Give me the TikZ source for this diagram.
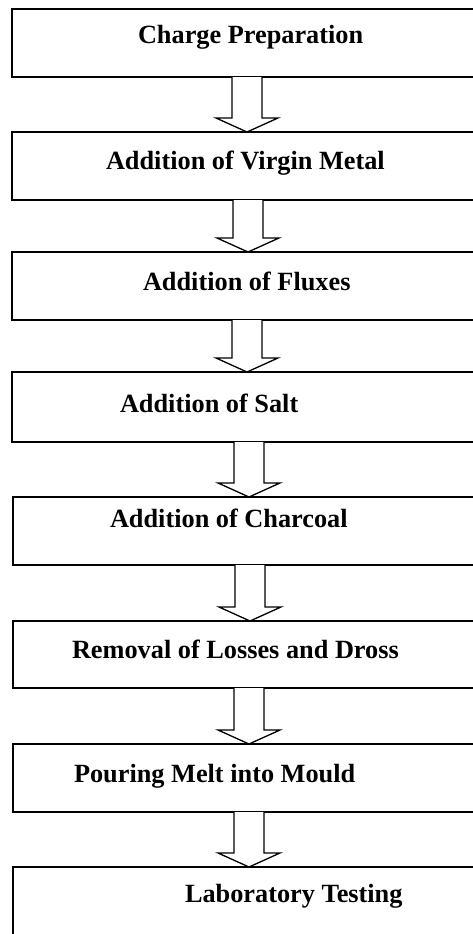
\documentclass[tikz,border=0pt]{standalone}
\usepackage{fontspec}
\setmainfont{Liberation Serif}
\usetikzlibrary{calc}
\tikzset{
  stepbox/.style={draw=black, line width=2pt, rectangle, outer sep=0pt, inner sep=0pt, minimum width=480pt, anchor=north west},
  steptext/.style={anchor=base west, inner sep=0pt, outer sep=0pt, font=\fontsize{26.3}{30}\selectfont\bfseries},
  arrowshape/.style={draw=black, line width=1.3pt, line join=miter, fill=white}
}
\newcommand\blockarr[3]{%
  \draw[arrowshape] let \p1=(#1.south), \p2=(#2.north) in
    ({#3pt-15pt},\y1) -- ({#3pt-15pt},{\y2+14pt}) -- ({#3pt-31pt},{\y2+14pt}) --
    (#3pt,\y2) -- ({#3pt+31pt},{\y2+14pt}) -- ({#3pt+15pt},{\y2+14pt}) -- ({#3pt+15pt},\y1);}
\begin{document}
\begin{tikzpicture}[x=1pt,y=-1pt]
\useasboundingbox (0,0) rectangle (473,934);
\clip (0,0) rectangle (473,934);
\fill[white] (0,0) rectangle (473,934);
\node[stepbox, minimum height=68pt] (b1) at (12,9) {};
\node[stepbox, minimum height=68pt] (b2) at (12,132) {};
\node[stepbox, minimum height=68pt] (b3) at (12,252) {};
\node[stepbox, minimum height=70pt] (b4) at (12,372) {};
\node[stepbox, minimum height=68pt] (b5) at (13,497) {};
\node[stepbox, minimum height=67pt] (b6) at (13,621) {};
\node[stepbox, minimum height=68pt] (b7) at (13,744) {};
\node[stepbox, minimum height=80pt] (b8) at (13,867) {};
\node[steptext] (t1) at (138,44) {Charge Preparation};
\node[steptext] (t2) at (106,169) {Addition of Virgin Metal};
\node[steptext] (t3) at (143,290) {Addition of Fluxes};
\node[steptext] (t4) at (120,412) {Addition of Salt};
\node[steptext] (t5) at (110,527) {Addition of Charcoal};
\node[steptext] (t6) at (72,658) {Removal of Losses and Dross};
\node[steptext] (t7) at (74,782) {Pouring Melt into Mould};
\node[steptext] (t8) at (185,902) {Laboratory Testing};
\blockarr{b1}{b2}{247}
\blockarr{b2}{b3}{248}
\blockarr{b3}{b4}{247}
\blockarr{b4}{b5}{249}
\blockarr{b5}{b6}{250}
\blockarr{b6}{b7}{249}
\blockarr{b7}{b8}{249}
\end{tikzpicture}
\end{document}
